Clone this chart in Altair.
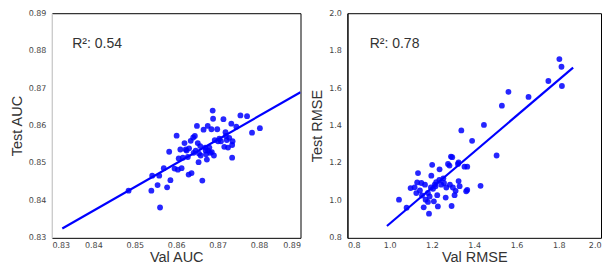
import altair as alt
import pandas as pd

# ---- Left panel: AUC ----
auc_val = [0.8485, 0.8540, 0.8542, 0.8555, 0.8561, 0.8559, 0.8570, 0.8578, 0.8586, 0.8583,
           0.8596, 0.8601, 0.8604, 0.8606, 0.8610, 0.8613, 0.8616, 0.8620, 0.8623, 0.8628,
           0.8630, 0.8635, 0.8637, 0.8631, 0.8641, 0.8645, 0.8650, 0.8652, 0.8654, 0.8647,
           0.8655, 0.8659, 0.8663, 0.8666, 0.8671, 0.8674, 0.8676, 0.8677, 0.8680, 0.8685,
           0.8686, 0.8688, 0.8689, 0.8691, 0.8693, 0.8699, 0.8701, 0.8708, 0.8714, 0.8716,
           0.8719, 0.8720, 0.8722, 0.8725, 0.8728, 0.8733, 0.8735, 0.8736, 0.8735, 0.8745,
           0.8755, 0.8771, 0.8783, 0.8802, 0.8642, 0.8670, 0.8682, 0.8625, 0.8658, 0.8672,
           0.8704]
auc_test = [0.8426, 0.8426, 0.8466, 0.8441, 0.8381, 0.8466, 0.8486, 0.8435, 0.8454, 0.8530,
            0.8485, 0.8573, 0.8482, 0.8512, 0.8536, 0.8486, 0.8514, 0.8553, 0.8536, 0.8516,
            0.8469, 0.8559, 0.8473, 0.8539, 0.8568, 0.8572, 0.8599, 0.8553, 0.8502, 0.8533,
            0.8525, 0.8520, 0.8453, 0.8589, 0.8533, 0.8509, 0.8599, 0.8533, 0.8541, 0.8590,
            0.8529, 0.8640, 0.8618, 0.8520, 0.8561, 0.8590, 0.8558, 0.8558, 0.8617, 0.8543,
            0.8582, 0.8572, 0.8561, 0.8541, 0.8567, 0.8605, 0.8548, 0.8558, 0.8514, 0.8597,
            0.8627, 0.8625, 0.8581, 0.8593, 0.8527, 0.8541, 0.8527, 0.8533, 0.8545, 0.8523,
            0.8565]
auc_fit_x = [0.8325, 0.8900]
auc_fit_y = [0.8325, 0.8689]
auc_r2 = "R²: 0.54"
auc_ticks = [0.83, 0.84, 0.85, 0.86, 0.87, 0.88, 0.89]

# ---- Right panel: RMSE ----
rmse_val = [1.044, 1.080, 1.099, 1.118, 1.126, 1.130, 1.134, 1.143, 1.150, 1.161,
            1.167, 1.170, 1.186, 1.189, 1.197, 1.201, 1.205, 1.209, 1.213, 1.220,
            1.228, 1.225, 1.236, 1.244, 1.257, 1.265, 1.268, 1.276, 1.285, 1.290,
            1.293, 1.296, 1.299, 1.307, 1.312, 1.323, 1.326, 1.331, 1.339, 1.354,
            1.362, 1.367, 1.390, 1.430, 1.446, 1.506, 1.531, 1.562, 1.657, 1.751,
            1.803, 1.813, 1.815, 1.153, 1.181, 1.195, 1.217, 1.235, 1.254, 1.283,
            1.326, 1.181, 1.367]
rmse_test = [1.004, 0.961, 1.066, 1.070, 1.039, 1.096, 1.146, 1.053, 1.093, 0.963,
             1.084, 1.004, 0.929, 1.021, 1.132, 1.190, 1.062, 0.995, 1.084, 1.098,
             0.968, 1.028, 1.166, 1.084, 1.093, 1.015, 1.069, 1.195, 1.084, 1.234,
             0.970, 1.231, 1.069, 1.028, 1.051, 1.195, 1.103, 1.076, 1.374, 1.180,
             1.049, 1.056, 1.318, 1.078, 1.403, 1.240, 1.506, 1.580, 1.553, 1.638,
             1.755, 1.714, 1.611, 1.026, 1.040, 1.069, 1.075, 1.109, 1.118, 1.186,
             1.203, 0.992, 1.180]
rmse_fit_x = [0.987, 1.868]
rmse_fit_y = [0.863, 1.709]
rmse_r2 = "R²: 0.78"
rmse_ticks = [0.8, 1.0, 1.2, 1.4, 1.6, 1.8, 2.0]

BLUE = "#0000ff"
TXT = "#333333"


def panel(xs, ys, fx, fy, r2, r2x, r2y, ticks, fmt, xtitle, ytitle, width, left_domain_color):
    pts = pd.DataFrame({"x": xs, "y": ys})
    fit = pd.DataFrame({"x": fx, "y": fy})
    lab = pd.DataFrame({"x": [r2x], "y": [r2y], "t": [r2]})
    dom = [ticks[0], ticks[-1]]
    xsc = alt.Scale(domain=dom, nice=False, zero=False)
    ysc = alt.Scale(domain=dom, nice=False, zero=False)
    xax = alt.Axis(values=ticks, tickCount=20, format=fmt, title=xtitle, domain=False,
                   labelPadding=4, titlePadding=1, labelOverlap=False)
    yax = alt.Axis(values=ticks, tickCount=20, format=fmt, title=ytitle, domain=True,
                   domainColor=left_domain_color, domainWidth=1,
                   labelPadding=6, titlePadding=4, labelOverlap=False)
    p = alt.Chart(pts).mark_circle(size=34, color=BLUE, opacity=0.85).encode(
        x=alt.X("x:Q", scale=xsc, axis=xax),
        y=alt.Y("y:Q", scale=ysc, axis=yax),
    )
    l = alt.Chart(fit).mark_line(color=BLUE, strokeWidth=2.2, clip=True).encode(
        x=alt.X("x:Q", scale=xsc), y=alt.Y("y:Q", scale=ysc)
    )
    t = alt.Chart(lab).mark_text(align="left", baseline="middle", font="Liberation Sans",
                                 fontSize=14, color=TXT).encode(
        x=alt.X("x:Q", scale=xsc), y=alt.Y("y:Q", scale=ysc), text="t:N"
    )
    return alt.layer(p, l, t).properties(width=width, height=225)


left = panel(auc_val, auc_test, auc_fit_x, auc_fit_y, auc_r2, 0.8349, 0.8818,
             auc_ticks, ".2f", "Val AUC", "Test AUC", 249, "#dddddd")
right = panel(rmse_val, rmse_test, rmse_fit_x, rmse_fit_y, rmse_r2, 0.9055, 1.835,
              rmse_ticks, ".1f", "Val RMSE", "Test RMSE", 254, "#000000")

chart = alt.hconcat(left, right, spacing=7).properties(
    padding={"top": 0, "left": 0, "right": 0, "bottom": 0}
).configure_view(
    stroke="#000000", strokeWidth=1
).configure_axis(
    grid=False, ticks=False,
    labelFont="DejaVu Sans", labelFontSize=8, labelColor="#444444",
    titleFont="Liberation Sans", titleFontSize=14.5, titleFontWeight="normal",
    titleColor=TXT,
)

chart.save("out.html", embed_options={"renderer": "svg", "actions": False})
